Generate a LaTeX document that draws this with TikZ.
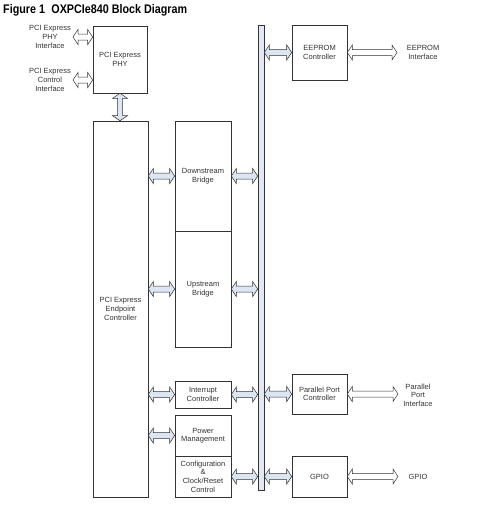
\documentclass[tikz,border=0pt]{standalone}
\usepackage{graphicx}
\usepackage{fontspec}
\setmainfont{Liberation Sans}
\usetikzlibrary{calc}
\definecolor{arrfill}{HTML}{DCE6F2}
\definecolor{busfill}{HTML}{E1E8F4}
\definecolor{ln}{HTML}{333333}
\newcommand\dbh[3]{\path[#1] let \p1=#2, \p2=#3 in (\x1,\y1) -- ++(5pt,7.5pt) -- ++(0,-4.5pt) -- (\x2-5pt,\y1+3pt) -- ++(0,4.5pt) -- (\x2,\y1) -- ++(-5pt,-7.5pt) -- ++(0,4.5pt) -- (\x1+5pt,\y1-3pt) -- ++(0,-4.5pt) -- cycle;}
\newcommand\dbv[3]{\path[#1] let \p1=#2, \p2=#3 in (\x1,\y1) -- ++(7.5pt,-5pt) -- ++(-5pt,0) -- (\x1+2.5pt,\y2+5pt) -- ++(5pt,0) -- (\x1,\y2) -- ++(-7.5pt,5pt) -- ++(5pt,0) -- (\x1-2.5pt,\y1-5pt) -- ++(-5pt,0) -- cycle;}
\begin{document}
\begin{tikzpicture}[x=1pt,y=-1pt,
  blk/.style={draw=ln, line width=0.6pt, inner sep=0pt, align=center, text=ln, font=\fontsize{7.5}{8.6}\selectfont},
  lbl/.style={inner sep=0pt, align=center, text=ln, font=\fontsize{7.5}{8.6}\selectfont},
  barr/.style={draw=ln, fill=arrfill, line width=0.5pt},
  warr/.style={draw=ln, fill=white, line width=0.5pt}]
\useasboundingbox (0,0) rectangle (483,509);
\node[anchor=base west, inner sep=0pt, font=\fontsize{12.5}{14}\selectfont\bfseries] (title) at (3,13.3) {\scalebox{0.86}[1]{Figure 1\hspace{0.6em}OXPCIe840 Block Diagram}};
% blocks
\node[blk, minimum width=54, minimum height=67] (phy) at (120,59.5) {PCI Express\\PHY};
\node[blk, minimum width=55, minimum height=376] (endp) at (120.5,309) {PCI Express\\Endpoint\\Controller};
\node[blk, minimum width=56, minimum height=110] (down) at (203,176) {Downstream\\Bridge};
\node[blk, minimum width=56, minimum height=116] (up) at (203,289) {Upstream\\Bridge};
\node[blk, minimum width=56, minimum height=27] (intr) at (203,394.5) {Interrupt\\Controller};
\node[blk, minimum width=56, minimum height=41] (pwr) at (203,435.5) {Power\\Management};
\node[blk, minimum width=56, minimum height=41] (cfg) at (203,476.5) {Configuration\\\&\\Clock/Reset\\Control};
\node[blk, fill=busfill, minimum width=6, minimum height=465] (bus) at (261,257.5) {};
\node[blk, minimum width=55, minimum height=55] (eep) at (319.5,52.5) {EEPROM\\Controller};
\node[blk, minimum width=55, minimum height=40] (ppc) at (319.5,394) {Parallel Port\\Controller};
\node[blk, minimum width=55, minimum height=41] (gpio) at (319.5,476.5) {GPIO};
% labels
\node[lbl] (phyif) at (50,37) {PCI Express\\PHY\\Interface};
\node[lbl] (ctlif) at (50,80) {PCI Express\\Control\\Interface};
\node[lbl] (eepif) at (423,52.5) {EEPROM\\Interface};
\node[lbl] (ppif) at (418,395) {Parallel\\Port\\Interface};
\node[lbl] (gpioif) at (418,477) {GPIO};
\coordinate (phya) at (73,37);
\coordinate (ctla) at (73,80);
\coordinate (eepa) at (397,52.5);
\coordinate (ppa) at (398,394);
\coordinate (gpa) at (398,477);
% arrows
\dbh{warr}{(phya)}{(phy.west |- phya)}
\dbh{warr}{(ctla)}{(phy.west |- ctla)}
\dbv{barr}{(phy.south)}{(endp.north)}
\dbh{barr}{(endp.east |- down)}{(down.west)}
\dbh{barr}{(endp.east |- up)}{(up.west)}
\dbh{barr}{(endp.east |- intr)}{(intr.west)}
\dbh{barr}{(endp.east |- pwr)}{(pwr.west)}
\dbh{barr}{(down.east)}{(bus.west |- down)}
\dbh{barr}{(up.east)}{(bus.west |- up)}
\dbh{barr}{(intr.east)}{(bus.west |- intr)}
\dbh{barr}{(cfg.east)}{(bus.west |- cfg)}
\dbh{barr}{(bus.east |- eep)}{(eep.west)}
\dbh{barr}{(bus.east |- ppc)}{(ppc.west)}
\dbh{barr}{(bus.east |- gpio)}{(gpio.west)}
\dbh{warr}{(eep.east)}{(eepa)}
\dbh{warr}{(ppc.east)}{(ppa)}
\dbh{warr}{(gpio.east)}{(gpa)}
\end{tikzpicture}
\end{document}
